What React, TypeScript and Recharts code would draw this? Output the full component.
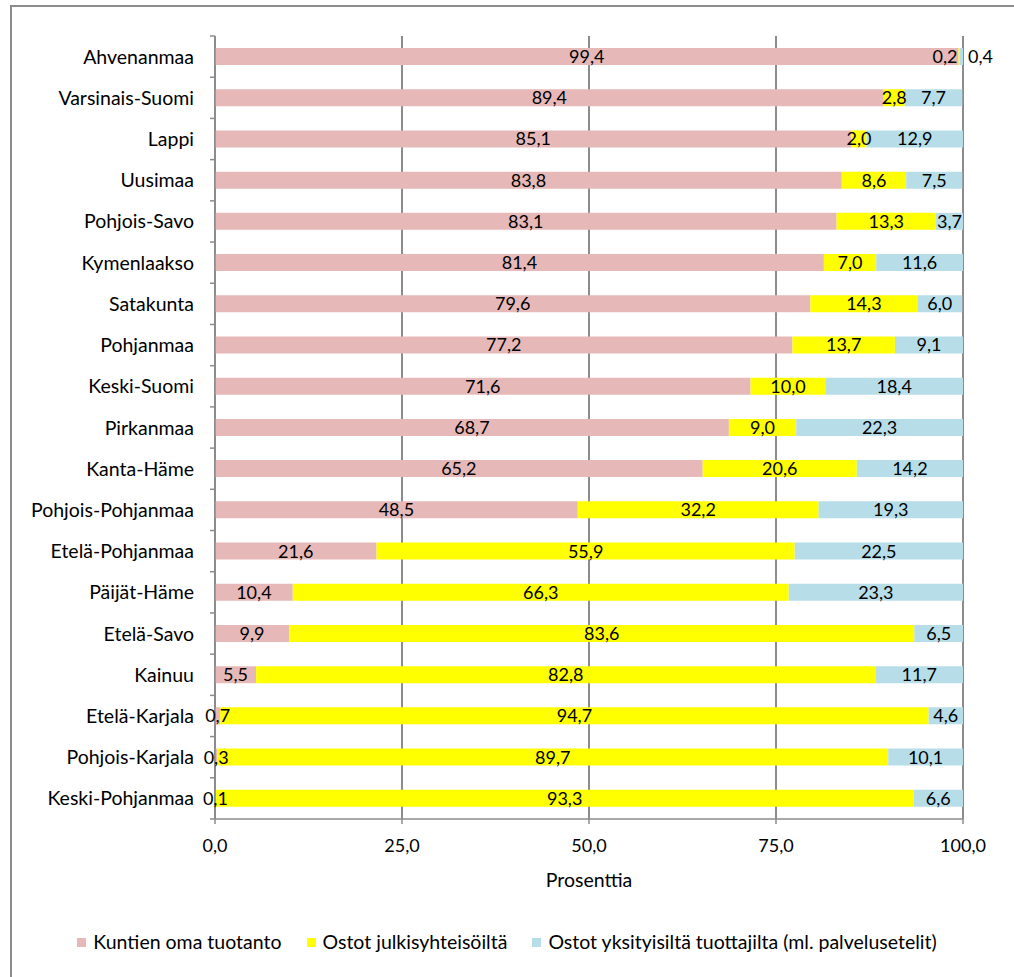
import React from 'react';
import { BarChart, Bar, XAxis, YAxis, CartesianGrid, LabelList, Label } from 'recharts';

const categories = [
  'Ahvenanmaa', 'Varsinais-Suomi', 'Lappi', 'Uusimaa', 'Pohjois-Savo', 'Kymenlaakso',
  'Satakunta', 'Pohjanmaa', 'Keski-Suomi', 'Pirkanmaa', 'Kanta-Häme', 'Pohjois-Pohjanmaa',
  'Etelä-Pohjanmaa', 'Päijät-Häme', 'Etelä-Savo', 'Kainuu', 'Etelä-Karjala',
  'Pohjois-Karjala', 'Keski-Pohjanmaa',
];
const omaTuotanto = [99.4, 89.4, 85.1, 83.8, 83.1, 81.4, 79.6, 77.2, 71.6, 68.7, 65.2, 48.5, 21.6, 10.4, 9.9, 5.5, 0.7, 0.3, 0.1];
const julkisilta = [0.2, 2.8, 2.0, 8.6, 13.3, 7.0, 14.3, 13.7, 10.0, 9.0, 20.6, 32.2, 55.9, 66.3, 83.6, 82.8, 94.7, 89.7, 93.3];
const yksityisilta = [0.4, 7.7, 12.9, 7.5, 3.7, 11.6, 6.0, 9.1, 18.4, 22.3, 14.2, 19.3, 22.5, 23.3, 6.5, 11.7, 4.6, 10.1, 6.6];
const xTicks = [0, 25, 50, 75, 100];

const seriesNames = ['Kuntien oma tuotanto', 'Ostot julkisyhteisöiltä', 'Ostot yksityisiltä tuottajilta (ml. palvelusetelit)'];
const colors = ['#e6b9b8', '#ffff00', '#b7dee8'];

const data = categories.map((name, i) => ({
  name,
  oma: omaTuotanto[i],
  julkiset: julkisilta[i],
  yksityiset: yksityisilta[i],
}));

const FONT = 'Lato, "Open Sans", sans-serif';
const TEXT_SIZE = 19.5;
const NUM_SIZE = 18;
const W = 1014;
const H = 977;
const MARGIN = { top: 36, right: 51, left: 0, bottom: 90 };
const X_AXIS_H = 68;
const Y_AXIS_W = 215;
const TICK_GAP = 21;
const band = (H - MARGIN.top - MARGIN.bottom - X_AXIS_H) / categories.length;

const fmt = (v: number) => v.toFixed(1).replace('.', ',');

const CategoryTick = (props: any) => {
  const { x, y, payload, index, visibleTicksCount } = props;
  const axisX = x + TICK_GAP;
  const top = y - band / 2;
  return (
    <g>
      <line x1={axisX - 5} x2={axisX} y1={top} y2={top} stroke="#8c8c8c" strokeWidth={1.5} />
      {index === visibleTicksCount - 1 && (
        <line x1={axisX - 5} x2={axisX} y1={top + band} y2={top + band} stroke="#8c8c8c" strokeWidth={1.5} />
      )}
      <text x={x} y={y + 7} textAnchor="end" fill="#000" fontSize={TEXT_SIZE} fontFamily={FONT}>
        {payload.value}
      </text>
    </g>
  );
};

const makeLabel = (series: number) => (props: any) => {
  const { x, y, width, height, value } = props;
  let tx = x + width / 2;
  let anchor: 'middle' | 'start' | 'end' = 'middle';
  if (series === 1 && value < 0.5) {
    tx = x - 1;
    anchor = 'end';
  } else if (series === 2 && width < 5) {
    tx = x + width + 5;
    anchor = 'start';
  }
  return (
    <text x={tx} y={y + height / 2 + 6.5} textAnchor={anchor} fill="#000" fontSize={NUM_SIZE} fontFamily={FONT}>
      {fmt(value)}
    </text>
  );
};

export default function App() {
  return (
    <div style={{ position: 'absolute', left: 0, top: 0, width: W, height: H, overflow: 'hidden', background: '#fff' }}>
      <div style={{ position: 'absolute', left: 10, top: 5, width: 1100, height: 1100, border: '2px solid #8c8c8c' }} />
      <div style={{ position: 'absolute', left: 0, top: 0 }}>
        <BarChart width={W} height={H} data={data} layout="vertical" margin={MARGIN} barSize={17}>
          <CartesianGrid horizontal={false} stroke="#8c8c8c" strokeWidth={2} />
          <XAxis
            type="number"
            domain={[0, 100]}
            allowDataOverflow
            ticks={xTicks}
            tickFormatter={fmt}
            height={X_AXIS_H}
            tick={{ fill: '#000', fontSize: NUM_SIZE, fontFamily: FONT }}
            tickSize={5}
            tickMargin={15}
            stroke="#8c8c8c"
            strokeWidth={1.5}
          >
            <Label value="Prosenttia" position="insideBottom" offset={0} fill="#000" fontSize={TEXT_SIZE} fontFamily={FONT} />
          </XAxis>
          <YAxis
            type="category"
            dataKey="name"
            width={Y_AXIS_W}
            tickLine={false}
            tickSize={0}
            tickMargin={TICK_GAP}
            tick={<CategoryTick />}
            interval={0}
            stroke="#8c8c8c"
            strokeWidth={1.5}
          />
          <Bar dataKey="oma" stackId="a" fill={colors[0]} isAnimationActive={false}>
            <LabelList dataKey="oma" content={makeLabel(0)} />
          </Bar>
          <Bar dataKey="julkiset" stackId="a" fill={colors[1]} isAnimationActive={false}>
            <LabelList dataKey="julkiset" content={makeLabel(1)} />
          </Bar>
          <Bar dataKey="yksityiset" stackId="a" fill={colors[2]} isAnimationActive={false}>
            <LabelList dataKey="yksityiset" content={makeLabel(2)} />
          </Bar>
        </BarChart>
      </div>
      <div
        style={{
          position: 'absolute', left: 0, top: 931, width: W, display: 'flex', justifyContent: 'center',
          fontFamily: FONT, fontSize: TEXT_SIZE, color: '#000', lineHeight: '22px',
        }}
      >
        {seriesNames.map((n, i) => (
          <span key={n} style={{ display: 'flex', alignItems: 'center', marginRight: i < 2 ? 25 : 0 }}>
            <span style={{ width: 9, height: 9, background: colors[i], marginRight: 7, display: 'inline-block' }} />
            {n}
          </span>
        ))}
      </div>
    </div>
  );
}
